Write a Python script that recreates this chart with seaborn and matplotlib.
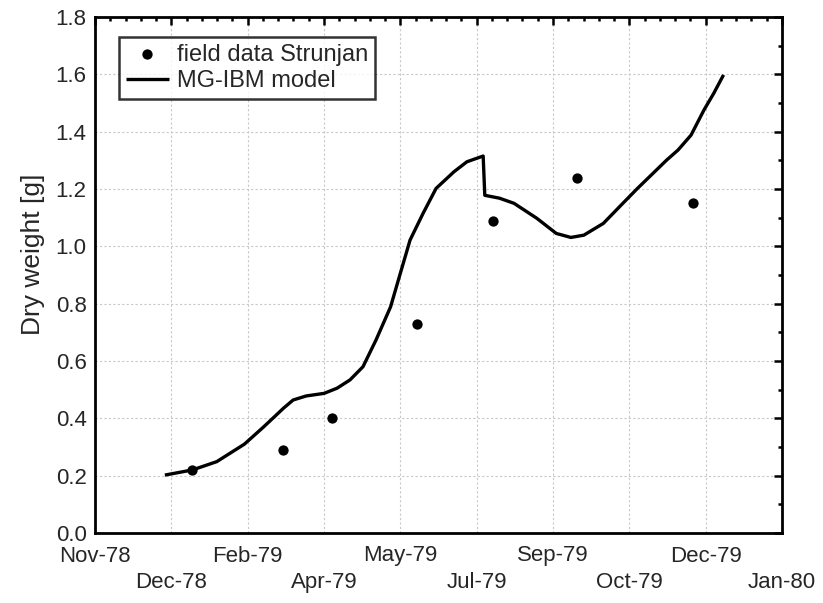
import numpy as np
import pandas as pd
import matplotlib
matplotlib.use("Agg")
import matplotlib.pyplot as plt
import matplotlib.dates as mdates
from matplotlib.ticker import FixedLocator, MultipleLocator, FormatStrFormatter
import seaborn as sns

# ---- data ----
model_dates = ["1979-01-05", "1979-01-22", "1979-02-06", "1979-02-23", "1979-03-07",
               "1979-03-19", "1979-03-25", "1979-04-02", "1979-04-13", "1979-04-21",
               "1979-04-29", "1979-05-07", "1979-05-15", "1979-05-24", "1979-05-30",
               "1979-06-05", "1979-06-13", "1979-06-21", "1979-07-02", "1979-07-10",
               "1979-07-20", "1979-07-21", "1979-07-30", "1979-08-08", "1979-08-22",
               "1979-09-03", "1979-09-12", "1979-09-20", "1979-10-02", "1979-10-14",
               "1979-10-23", "1979-11-10", "1979-11-17", "1979-11-25", "1979-12-03",
               "1979-12-09", "1979-12-15"]
model_values = [0.202, 0.220, 0.249, 0.310, 0.371,
                0.435, 0.464, 0.478, 0.487, 0.505,
                0.534, 0.580, 0.673, 0.789, 0.906,
                1.022, 1.115, 1.202, 1.260, 1.295,
                1.315, 1.178, 1.168, 1.150, 1.098,
                1.045, 1.031, 1.039, 1.080, 1.150,
                1.202, 1.301, 1.336, 1.388, 1.476,
                1.534, 1.598]

field_dates = ["1979-01-22", "1979-03-19", "1979-04-18", "1979-06-09",
               "1979-07-26", "1979-09-16", "1979-11-26"]
field_values = [0.22, 0.29, 0.40, 0.73, 1.09, 1.24, 1.15]

xtick_labels = ["Nov-78", "Dec-78", "Feb-79", "Apr-79", "May-79",
                "Jul-79", "Sep-79", "Oct-79", "Dec-79", "Jan-80"]
axis_start = "1978-11-23"
tick_step_days = 47

model = pd.DataFrame({"date": pd.to_datetime(model_dates), "value": model_values})
field = pd.DataFrame({"date": pd.to_datetime(field_dates), "value": field_values})

# ---- style ----
sns.set_style("white")
plt.rcParams["font.family"] = ["Liberation Sans", "DejaVu Sans"]
plt.rcParams["font.size"] = 16

fig = plt.figure(figsize=(8.23, 6.03), dpi=100)
ax = fig.add_axes([95 / 823, 1 - 533 / 603, (782 - 95) / 823, (533 - 17) / 603])

sns.scatterplot(data=field, x="date", y="value", ax=ax, color="black", s=55,
                edgecolor="black", linewidth=0, zorder=4, label="field data Strunjan")
sns.lineplot(data=model, x="date", y="value", ax=ax, color="black", linewidth=2.4,
             sort=False, zorder=3, label="MG-IBM model",
             solid_joinstyle="round", solid_capstyle="butt")

start = mdates.date2num(pd.Timestamp(axis_start))
ticks = start + tick_step_days * np.arange(len(xtick_labels))
ax.set_xlim(ticks[0], ticks[-1])
ax.xaxis.set_major_locator(FixedLocator(ticks))
ax.xaxis.set_minor_locator(FixedLocator(np.arange(ticks[0], ticks[-1] + 0.1, tick_step_days / 5)))
labels = [lab if i % 2 == 0 else "\n" + lab for i, lab in enumerate(xtick_labels)]
ax.set_xticklabels(labels, linespacing=1.35)

ax.set_ylim(0, 1.8)
ax.yaxis.set_major_locator(MultipleLocator(0.2))
ax.yaxis.set_minor_locator(MultipleLocator(0.1))
ax.yaxis.set_major_formatter(FormatStrFormatter("%.1f"))

ax.set_xlabel("")
ax.set_ylabel("Dry weight [g]", fontsize=19, labelpad=8, y=0.54)

ax.grid(True, which="major", color="#c8c8c8", linestyle=(0, (2, 2)), linewidth=0.8)
ax.set_axisbelow(True)
for sp in ax.spines.values():
    sp.set_color("black")
    sp.set_linewidth(2.0)
    sp.set_visible(True)

ax.tick_params(which="major", direction="in", length=6, width=1.8, top=True, right=True,
               labelsize=16, color="black")
ax.tick_params(axis="x", which="major", pad=9)
ax.tick_params(axis="y", which="major", pad=6)
ax.tick_params(which="minor", direction="in", length=3, width=1.8, top=True, right=True,
               color="black")

leg = ax.legend(loc="upper left", bbox_to_anchor=(0.035, 0.962), frameon=True,
                fancybox=False, fontsize=17, handlelength=1.8, handletextpad=0.35,
                borderpad=0.3, labelspacing=0.2, borderaxespad=0)
leg.get_frame().set_edgecolor("black")
leg.get_frame().set_linewidth(1.8)

fig.savefig("out.png", dpi=100)
